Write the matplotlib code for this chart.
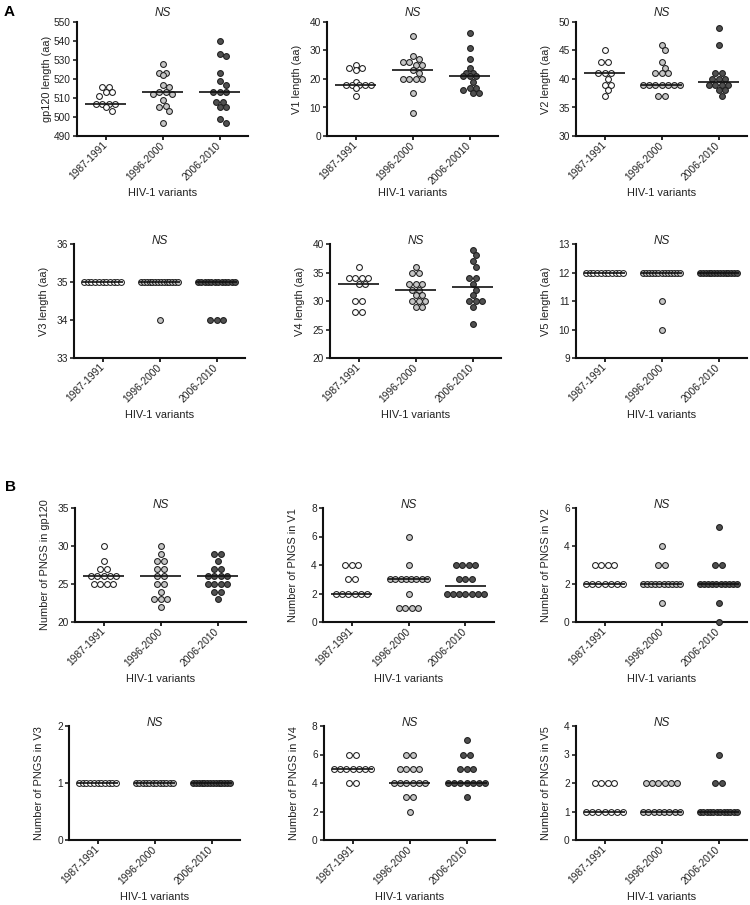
import numpy as np
import matplotlib
matplotlib.use('Agg')
import matplotlib.pyplot as plt

plt.rcParams['font.family'] = ['Liberation Sans', 'DejaVu Sans']

# x categories
groups = ['1987-1991', '1996-2000', '2006-2010']
groups_v1 = ['1987-1991', '1996-2000', '2006-20010']   # typo as in original figure

# ---- A: lengths (aa), one list per time period ----
gp120_g1 = [516, 516, 513, 511, 513, 507, 507, 507, 507, 505, 503]
gp120_g2 = [528, 523, 523, 522, 517, 516, 513, 513, 512, 512, 509, 506, 505, 503, 497]
gp120_g3 = [540, 533, 532, 523, 519, 517, 513, 513, 513, 508, 508, 505, 505, 499, 497]

v1_g1 = [25, 24, 24, 23, 19, 18, 18, 18, 18, 18, 17, 14]
v1_g2 = [35, 28, 27, 26, 26, 25, 25, 23, 22, 20, 20, 20, 20, 15, 8]
v1_g3 = [36, 31, 27, 24, 22, 22, 21, 21, 21, 19, 17, 17, 16, 15, 15]

v2_g1 = [45, 43, 43, 41, 41, 41, 40, 39, 39, 38, 37]
v2_g2 = [46, 45, 43, 42, 41, 41, 41, 39, 39, 39, 39, 39, 39, 39, 37, 37]
v2_g3 = [49, 46, 41, 41, 40, 40, 40, 39, 39, 39, 39, 38, 38, 37]

v3_g1 = [35] * 11
v3_g2 = [35] * 14 + [34]
v3_g3 = [35] * 12 + [34, 34, 34]

v4_g1 = [36, 34, 34, 34, 34, 33, 33, 30, 30, 28, 28]
v4_g2 = [36, 35, 35, 33, 33, 33, 32, 32, 31, 31, 30, 30, 30, 29, 29]
v4_g3 = [39, 38, 37, 36, 34, 34, 33, 32, 31, 30, 30, 30, 29, 26]

v5_g1 = [12] * 11
v5_g2 = [12] * 13 + [11, 10]
v5_g3 = [12] * 14

# ---- B: number of PNGS ----
png_gp120_g1 = [30, 28, 27, 27, 26, 26, 26, 26, 26, 25, 25, 25, 25]
png_gp120_g2 = [30, 29, 28, 28, 27, 27, 26, 26, 25, 25, 24, 23, 23, 23, 22]
png_gp120_g3 = [29, 29, 28, 27, 27, 26, 26, 26, 26, 25, 25, 25, 25, 24, 24, 23]

png_v1_g1 = [4, 4, 4, 3, 3, 2, 2, 2, 2, 2, 2]
png_v1_g2 = [6, 4, 3, 3, 3, 3, 3, 3, 3, 3, 2, 1, 1, 1, 1]
png_v1_g3 = [4, 4, 4, 4, 3, 3, 3, 2, 2, 2, 2, 2, 2, 2]

png_v2_g1 = [3, 3, 3, 3, 2, 2, 2, 2, 2, 2, 2]
png_v2_g2 = [4, 3, 3] + [2] * 10 + [1]
png_v2_g3 = [5, 3, 3] + [2] * 10 + [1, 0]

png_v3_g1 = [1] * 11
png_v3_g2 = [1] * 12
png_v3_g3 = [1] * 14

png_v4_g1 = [6, 6, 5, 5, 5, 5, 5, 5, 5, 4, 4]
png_v4_g2 = [6, 6, 5, 5, 5, 5, 4, 4, 4, 4, 4, 4, 3, 3, 2]
png_v4_g3 = [7, 6, 6, 5, 5, 5, 4, 4, 4, 4, 4, 4, 4, 3]

png_v5_g1 = [2, 2, 2, 2, 1, 1, 1, 1, 1, 1, 1]
png_v5_g2 = [2] * 6 + [1] * 8
png_v5_g3 = [3, 2, 2] + [1] * 12

# styling
FILLS = ['white', '#c6c6c6', '#505050']
EDGE = '#1e1e1e'
W, H = 750, 905
AX_W, AX_H = 171, 114
PX_PER_CAT = AX_W / 3.0


def swarm(vals, px_per_y, thr=6.2, step_max=6.3, row_max=37.0, width_cap=40.0):
    """GraphPad-like column scatter: equal values form a centred row;
    a row that would touch earlier points is nudged or opened up (pixels)"""
    xs, ys, placed = [], [], []
    uniq, counts = np.unique(vals, return_counts=True)
    cands = [(abs(c) + (m - 1) * 4, c, m) for c in (0.0, 3.2, -3.2, 6.4, -6.4)
             for m in (1.0, 1.6, 2.2, 3.0)]
    cands.sort(key=lambda t: t[0])
    for val, n in zip(uniq[::-1], counts[::-1]):
        step = 0.0 if n < 2 else min(step_max, row_max / (n - 1))
        base = np.arange(n) - (n - 1) / 2
        y = val * px_per_y
        best, best_d = (0.0, 1.0), -1.0
        for _, c, m in cands:
            if n < 2 and m > 1:
                continue
            if (n - 1) * step * m > width_cap:
                continue
            row = base * step * m + c
            d = min([np.hypot(x - px, y - py) for x in row for px, py in placed],
                    default=99.0)
            if d >= thr:
                best = (c, m)
                break
            if d > best_d + 0.5:
                best, best_d = (c, m), d
        row = base * step * best[1] + best[0]
        for x in row:
            placed.append((x, y))
            xs.append(x / PX_PER_CAT)
            ys.append(val)
    return np.array(xs), np.array(ys)


def panel(left, top, data, ylabel, ylim, yticks, xlabels, ns_off):
    ax = plt.gcf().add_axes([left / W, 1 - (top + AX_H) / H, AX_W / W, AX_H / H])
    px_per_y = AX_H / (ylim[1] - ylim[0])
    for i, vals in enumerate(data):
        offs, v = swarm(vals, px_per_y)
        ax.plot(i + offs, v, 'o', ms=4.2, mfc=FILLS[i], mec=EDGE, mew=0.75,
                zorder=3, clip_on=False)
        med = np.median(vals)
        ax.plot([i - 0.36, i + 0.36], [med, med], color='#111111', lw=1.2, zorder=4,
                solid_capstyle='butt')
    ax.set_xlim(-0.5, 2.5)
    ax.set_ylim(*ylim)
    ax.set_yticks(yticks)
    ax.set_xticks(range(3))
    ax.set_xticklabels(xlabels, rotation=45, ha='right', va='center',
                       rotation_mode='anchor', fontsize=7.4, color='#222222')
    ax.tick_params(axis='y', labelsize=7.3, colors='#222222', length=3, width=1.2, pad=1.5)
    ax.tick_params(axis='x', length=3, width=1.2, pad=2.5)
    for s in ['top', 'right']:
        ax.spines[s].set_visible(False)
    for s in ['left', 'bottom']:
        ax.spines[s].set_linewidth(1.5)
        ax.spines[s].set_color('#111111')
    ax.set_ylabel(ylabel, fontsize=7.9, color='#222222', va='center')
    ax.yaxis.set_label_coords(-30 / AX_W, 0.5)
    ax.set_xlabel('HIV-1 variants', fontsize=7.9, color='#222222', va='center')
    ax.xaxis.set_label_coords(0.5, -57 / AX_H)
    ax.annotate('NS', xy=(1, 1), xycoords=('data', 'axes fraction'),
                xytext=(0, ns_off), textcoords='offset pixels',
                ha='center', va='center', fontsize=8.5, style='italic', color='#222222')
    return ax


fig = plt.figure(figsize=(W / 100, H / 100), dpi=100)

# row A1
panel(77, 22, [gp120_g1, gp120_g2, gp120_g3], 'gp120 length (aa)',
      (490, 550), range(490, 551, 10), groups, 9)
panel(327, 22, [v1_g1, v1_g2, v1_g3], 'V1 length (aa)',
      (0, 40), range(0, 41, 10), groups_v1, 9)
panel(576, 22, [v2_g1, v2_g2, v2_g3], 'V2 length (aa)',
      (30, 50), range(30, 51, 5), groups, 9)
# row A2
panel(74, 244, [v3_g1, v3_g2, v3_g3], 'V3 length (aa)',
      (33, 36), range(33, 37), groups, 3)
panel(330, 244, [v4_g1, v4_g2, v4_g3], 'V4 length (aa)',
      (20, 40), range(20, 41, 5), groups, 3)
panel(576, 244, [v5_g1, v5_g2, v5_g3], 'V5 length (aa)',
      (9, 13), range(9, 14), groups, 3)
# row B1
panel(75, 508, [png_gp120_g1, png_gp120_g2, png_gp120_g3], 'Number of PNGS in gp120',
      (20, 35), range(20, 36, 5), groups, 3)
panel(323, 508, [png_v1_g1, png_v1_g2, png_v1_g3], 'Number of PNGS in V1',
      (0, 8), range(0, 9, 2), groups, 3)
panel(576, 508, [png_v2_g1, png_v2_g2, png_v2_g3], 'Number of PNGS in V2',
      (0, 6), range(0, 7, 2), groups, 3)
# row B2
panel(69, 726, [png_v3_g1, png_v3_g2, png_v3_g3], 'Number of PNGS in V3',
      (0, 2), range(0, 3), groups, 3)
panel(324, 726, [png_v4_g1, png_v4_g2, png_v4_g3], 'Number of PNGS in V4',
      (0, 8), range(0, 9, 2), groups, 3)
panel(576, 726, [png_v5_g1, png_v5_g2, png_v5_g3], 'Number of PNGS in V5',
      (0, 4), range(0, 5), groups, 3)

fig.text(9 / W, 1 - 12 / H, 'A', fontsize=11, fontweight='bold', ha='center', va='center')
fig.text(10 / W, 1 - 487 / H, 'B', fontsize=11, fontweight='bold', ha='center', va='center')

fig.savefig('out.png', dpi=100)
